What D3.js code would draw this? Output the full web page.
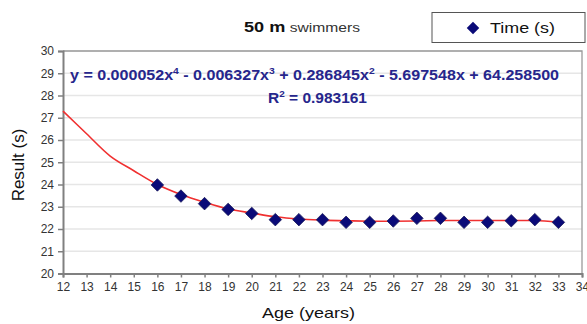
<html>
<head>
<meta charset="utf-8"/>
<script src="https://d3js.org/d3.v7.min.js"></script>
<style>
  body { margin: 0; background: #fff; }
  text { font-family: "Liberation Sans", Arial, sans-serif; }
</style>
</head>
<body>
<div id="v"></div>
<script type="text/javascript">
(function() {

var ages = [16, 17, 18, 19, 20, 21, 22, 23, 24, 25, 26, 27, 28, 29, 30, 31, 32, 33];
var times = [23.98, 23.48, 23.14, 22.88, 22.70, 22.42, 22.42, 22.42, 22.30, 22.30, 22.36, 22.48, 22.48, 22.30, 22.30, 22.37, 22.42, 22.30];

// trend line
var trendAges = [12, 13, 14, 15, 16, 17, 18, 19, 20, 21, 22, 23, 24, 25, 26, 27, 28, 29, 30, 31, 32, 33];
var trendTimes = [27.3, 26.28, 25.28, 24.62, 24.0, 23.55, 23.2, 22.9, 22.72, 22.55, 22.45, 22.4, 22.37, 22.35, 22.35, 22.36, 22.38, 22.38, 22.38, 22.38, 22.38, 22.3];

var xTicks = d3.range(12, 35);
var yTicks = d3.range(20, 31);

var width = 587, height = 324;
var svg = d3.select("#v").append("svg")
  .attr("width", width)
  .attr("height", height);

var x = d3.scaleLinear().domain([12, 34]).range([63, 582]);
var y = d3.scaleLinear().domain([20, 30]).range([273.5, 51]);

// grid
svg.append("g").selectAll("line")
  .data(yTicks.slice(1)).enter()
  .append("line")
  .attr("x1", x(12)).attr("x2", x(34))
  .attr("y1", function(d) { return y(d); })
  .attr("y2", function(d) { return y(d); })
  .attr("stroke", "#e6e6e6")
  .attr("stroke-width", 1.3);

// border top/right
svg.append("path")
  .attr("d", "M" + x(12) + "," + y(30) + "H" + x(34) + "V" + y(20))
  .attr("fill", "none")
  .attr("stroke", "#9a9a9a")
  .attr("stroke-width", 1.3);

var xAxis = svg.append("g")
  .attr("transform", "translate(0," + y(20) + ")")
  .call(d3.axisBottom(x).tickValues(xTicks).tickSize(4).tickPadding(5).tickFormat(d3.format("d")));
var yAxis = svg.append("g")
  .attr("transform", "translate(" + x(12) + ",0)")
  .call(d3.axisLeft(y).tickValues(yTicks).tickSize(5).tickPadding(4).tickFormat(d3.format("d")));

[xAxis, yAxis].forEach(function(a) {
  a.select(".domain").attr("stroke", "#808080").attr("stroke-width", 2);
  a.selectAll(".tick line").attr("stroke", "#808080").attr("stroke-width", 1.5);
  a.selectAll(".tick text").attr("fill", "#333").style("font-size", "12px");
});

// trend line
var line = d3.line()
  .x(function(d) { return x(d[0]); })
  .y(function(d) { return y(d[1]); })
  .curve(d3.curveCatmullRom);
svg.append("path")
  .datum(d3.zip(trendAges, trendTimes))
  .attr("d", line)
  .attr("fill", "none")
  .attr("stroke", "#f03030")
  .attr("stroke-width", 1.6);

// markers
var diamond = d3.symbol().type(d3.symbolDiamond2).size(100);
svg.append("g").selectAll("path")
  .data(d3.zip(ages, times)).enter()
  .append("path")
  .attr("d", diamond)
  .attr("transform", function(d) { return "translate(" + x(d[0]) + "," + y(d[1]) + ")"; })
  .attr("fill", "#0a0a78")
  .attr("stroke", "#1c1c5c")
  .attr("stroke-width", 0.8);

// equation
var eq = svg.append("text")
  .attr("x", 70).attr("y", 80)
  .attr("fill", "#26268c")
  .attr("textLength", 489)
  .attr("lengthAdjust", "spacingAndGlyphs")
  .style("font-size", "14px")
  .style("font-weight", "bold");
var parts = [["y = 0.000052x", ""], ["4", "sup"], [" - 0.006327x", ""], ["3", "sup"],
  [" + 0.286845x", ""], ["2", "sup"], [" - 5.697548x + 64.258500", ""]];
parts.forEach(function(p, i) {
  var t = eq.append("tspan").text(p[0]);
  if (p[1] === "sup") t.attr("dy", -6).style("font-size", "9px");
  else if (i > 0) t.attr("dy", 6);
});
var r2 = svg.append("text")
  .attr("x", 268).attr("y", 103)
  .attr("fill", "#26268c")
  .attr("textLength", 99)
  .attr("lengthAdjust", "spacingAndGlyphs")
  .style("font-size", "14px")
  .style("font-weight", "bold");
r2.append("tspan").text("R");
r2.append("tspan").text("2").attr("dy", -6).style("font-size", "9px");
r2.append("tspan").text(" = 0.983161").attr("dy", 6);

// title
var title = svg.append("text")
  .attr("x", 244).attr("y", 32)
  .attr("fill", "#111")
  .attr("textLength", 116)
  .attr("lengthAdjust", "spacingAndGlyphs");
title.append("tspan").text("50 m").style("font-size", "14.5px").style("font-weight", "bold");
title.append("tspan").text(" swimmers").style("font-size", "12.5px").attr("fill", "#333");

// legend
svg.append("rect")
  .attr("x", 432).attr("y", 12.5).attr("width", 153).attr("height", 30)
  .attr("fill", "#fff").attr("stroke", "#555").attr("stroke-width", 1);
svg.append("path")
  .attr("d", diamond)
  .attr("transform", "translate(473,28)")
  .attr("fill", "#0a0a78");
svg.append("text")
  .attr("x", 490).attr("y", 33)
  .attr("fill", "#111")
  .attr("textLength", 65)
  .attr("lengthAdjust", "spacingAndGlyphs")
  .style("font-size", "15px")
  .text("Time (s)");

// axis titles
svg.append("text")
  .attr("x", 262).attr("y", 318)
  .attr("fill", "#111")
  .attr("textLength", 93)
  .attr("lengthAdjust", "spacingAndGlyphs")
  .style("font-size", "15px")
  .text("Age (years)");
svg.append("text")
  .attr("transform", "translate(24,165) rotate(-90)")
  .attr("text-anchor", "middle")
  .attr("fill", "#111")
  .style("font-size", "17px")
  .text("Result (s)");

})();
</script>
</body>
</html>
